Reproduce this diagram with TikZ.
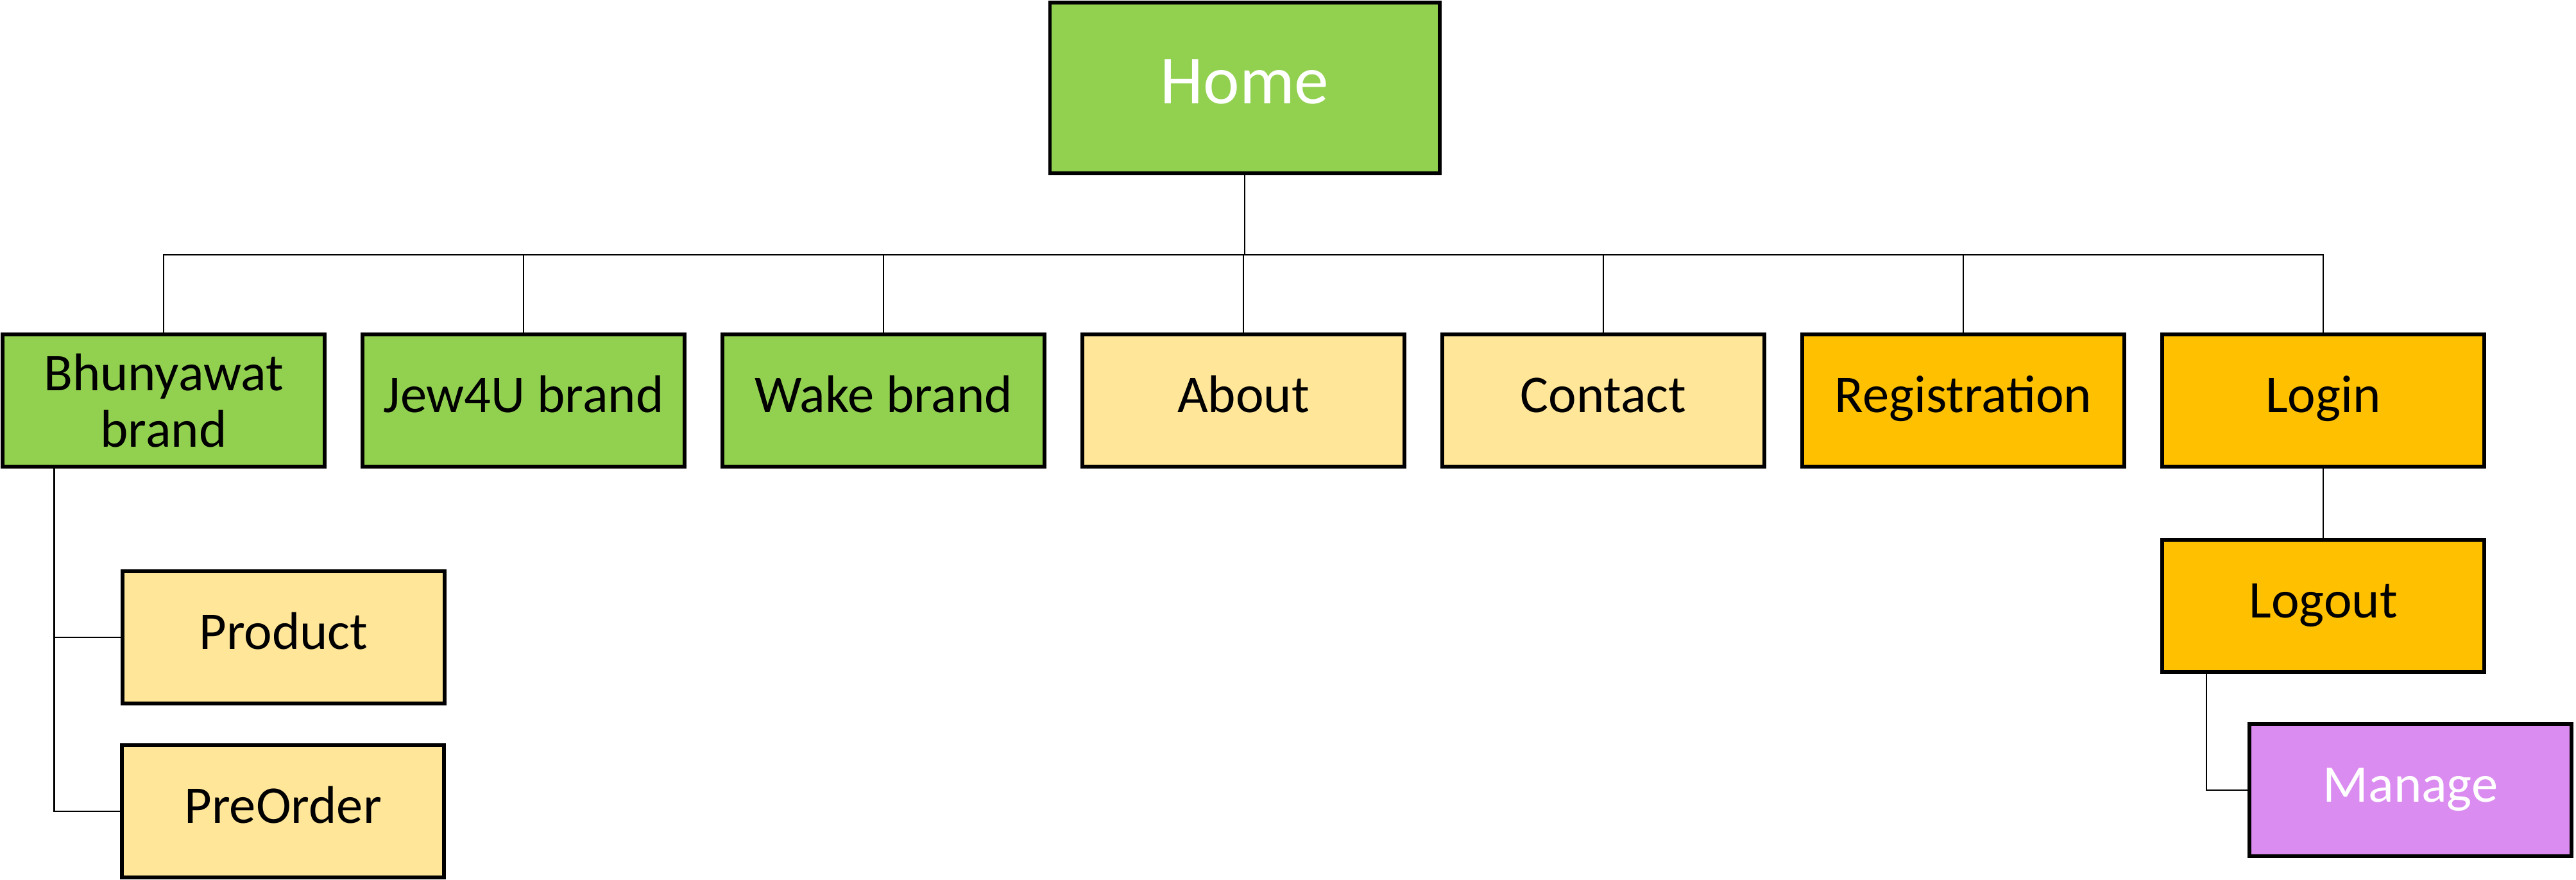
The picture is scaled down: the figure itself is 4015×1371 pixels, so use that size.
\documentclass[tikz,border=0pt]{standalone}
\usepackage{fontspec}
\setmainfont{Carlito}
\definecolor{cgreen}{HTML}{92D050}
\definecolor{cyellow}{HTML}{FFE699}
\definecolor{corange}{HTML}{FFC000}
\definecolor{cpurple}{RGB}{218,140,240}
\tikzset{
  basebox/.style={draw=black, line width=1.6pt, minimum width=5.02cm, minimum height=2.06cm, inner sep=2pt, align=center, font=\fontsize{23.5}{27}\selectfont},
  box/.style={basebox, text height=16.5pt, text depth=6pt},
  gbox/.style={box, fill=cgreen},
  ybox/.style={box, fill=cyellow},
  obox/.style={box, fill=corange},
  pbox/.style={box, fill=cpurple, text=white},
  conn/.style={draw=black, line width=0.6pt}
}
\begin{document}
\begin{tikzpicture}[x=0.01cm, y=-0.01cm]
\useasboundingbox (0,0) rectangle (4015,1371);
\node[basebox, fill=cgreen, text=white, text height=21pt, text depth=7.3pt, minimum width=6.07cm, minimum height=2.66cm, font=\fontsize{30.5}{36}\selectfont] (home) at (1940,137) {Home};
\node[basebox, fill=cgreen] (bhun) at (255,624) {Bhunyawat\\[-2pt]brand};
\node[gbox] (jew) at (816,624) {Jew4U brand};
\node[gbox] (wake) at (1377,624) {Wake brand};
\node[ybox] (about) at (1938,624) {About};
\node[ybox] (contact) at (2499,624) {Contact};
\node[obox] (reg) at (3060,624) {Registration};
\node[obox] (login) at (3621,624) {Login};
\node[ybox] (product) at (442,993) {Product};
\node[ybox] (preorder) at (441,1264) {PreOrder};
\node[obox] (logout) at (3621,944) {Logout};
\node[pbox] (manage) at (3757,1231) {Manage};
\coordinate (bus) at (1940,397);
\coordinate (brk) at (84.5,0);
\coordinate (mbrk) at (3439,0);
\draw[conn] (home.south) -- (home.south |- bus);
\draw[conn] (bhun.north) -- (bhun.north |- bus) -- (login.north |- bus) -- (login.north);
\foreach \n in {jew,wake,about,contact,reg}{
  \draw[conn] (\n.north) -- (\n.north |- bus);
}
\draw[conn] (bhun.south -| brk) |- (preorder.west);
\draw[conn] (brk |- product.west) -- (product.west);
\draw[conn] (login.south) -- (logout.north);
\draw[conn] (logout.south -| mbrk) |- (manage.west);
\end{tikzpicture}
\end{document}
